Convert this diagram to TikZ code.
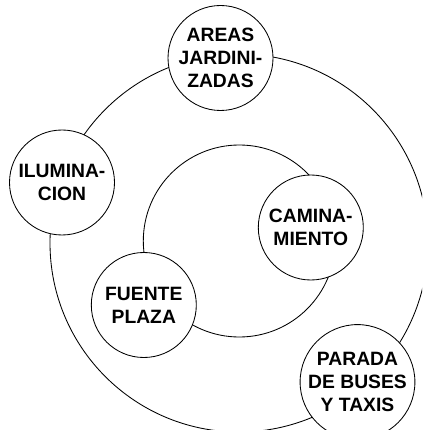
\documentclass[tikz,border=0pt]{standalone}
\usepackage{fontspec}
\setmainfont{Liberation Sans}
\begin{document}
\begin{tikzpicture}[x=1pt,y=-1pt,
  ring/.style={circle, draw=black, line width=0.85pt, inner sep=0pt},
  topic/.style={circle, draw=black, line width=0.85pt, fill=white, minimum size=105pt, inner sep=0pt, align=center, font=\bfseries\fontsize{19.3}{23}\selectfont}]
\path[use as bounding box, clip] (0,0) rectangle (422,430);
\node[ring, minimum size=378pt] (outer) at (239,243) {};
\node[ring, minimum size=192pt] (inner) at (239.3,241) {};
\node[topic] (areas) at (220.5,58) {AREAS\\JARDINI-\\ZADAS};
\node[topic] (ilum) at (62,182.5) {ILUMINA-\\CION};
\node[topic] (camin) at (310.8,227.5) {CAMINA-\\MIENTO};
\node[topic] (fuente) at (143.8,305) {FUENTE\\PLAZA};
\node[topic] (parada) at (357.5,382) {PARADA\\DE BUSES\\Y TAXIS};
\end{tikzpicture}
\end{document}
